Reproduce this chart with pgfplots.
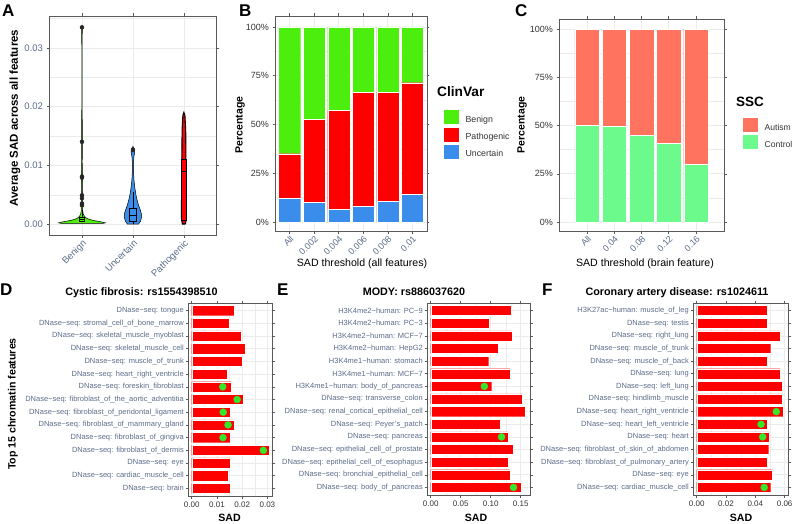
\documentclass[border=0pt]{standalone}
\usepackage{fontspec}
\setmainfont{Liberation Sans}
\usepackage{pgfplots}
\pgfplotsset{compat=1.18}

\definecolor{cben}{HTML}{4CEE0E}
\definecolor{cpat}{HTML}{FF0000}
\definecolor{cunc}{HTML}{3B8DEB}
\definecolor{caut}{HTML}{FF735F}
\definecolor{cctl}{HTML}{6BFA8B}
\definecolor{cdot}{HTML}{33E82A}
\definecolor{cgrid}{HTML}{EBEBEB}
\definecolor{ctick}{HTML}{5C6C8A}
\definecolor{cdark}{HTML}{333333}

\newcommand{\fs}[1]{\fontsize{#1}{#1}\selectfont}

\pgfplotsset{
  gg/.style={
    scale only axis, anchor=south west,
    axis line style={draw=black!65, line width=0.6pt},
    tick align=outside, major tick length=2.5pt, minor tick length=0pt,
    tick style={draw=black!65, line width=0.5pt},
    grid=both,
    major grid style={draw=cgrid, line width=0.6pt},
    minor grid style={draw=cgrid, line width=0.3pt},
    /pgf/number format/assume math mode=true,
  },
  sq/.style={legend image code/.code={\filldraw[##1] (0pt,-4.5pt) rectangle (16pt,10.5pt); \path (20pt,0pt);}},
  hbar/.style={
    ymin=0.4, ymax=15.6, ytick={1,...,15},
    scaled x ticks=false,
    xticklabel style={font=\fs{8}, text=cdark, /pgf/number format/.cd, fixed, fixed zerofill, precision=2},
    yticklabel style={font=\fs{7.5}, text=ctick, inner sep=1.5pt},
  },
}

\begin{document}
\begin{tikzpicture}
\path[use as bounding box] (0,0) rectangle (794pt,523pt);

% ---------- A: violins
\begin{axis}[gg, at={(49pt,288pt)}, width=167pt, height=219pt,
  xmin=0.353, xmax=3.63, ymin=-0.00187, ymax=0.03543,
  xtick={1,2,3}, xticklabels={Benign,Uncertain,Pathogenic},
  ytick={0,0.01,0.02,0.03}, minor ytick={0.005,0.015,0.025,0.035},
  scaled y ticks=false,
  tick label style={font=\fs{9.5}, text=ctick},
  yticklabel style={/pgf/number format/.cd, fixed, fixed zerofill, precision=2},
  xticklabel style={rotate=45, anchor=north east, inner sep=1pt},
]
\addplot[fill=cben, draw=black, line width=0.5pt] coordinates {
 (1.40,0.0001)(1.46,0.0002)(1.36,0.0004)(1.23,0.0006)(1.14,0.0008)(1.09,0.0010)(1.05,0.0013)(1.025,0.0017)(1.012,0.0024)(1.02,0.0033)(1.008,0.0040)(1.015,0.0047)(1.006,0.0060)(1.012,0.0080)(1.005,0.0105)(1.008,0.0140)(1.004,0.0200)(1.004,0.0300)(1.006,0.0334)(1.0,0.0336)
 (0.994,0.0334)(0.996,0.0300)(0.996,0.0200)(0.992,0.0140)(0.995,0.0105)(0.988,0.0080)(0.994,0.0060)(0.985,0.0047)(0.992,0.0040)(0.98,0.0033)(0.988,0.0024)(0.975,0.0017)(0.95,0.0013)(0.91,0.0010)(0.86,0.0008)(0.77,0.0006)(0.64,0.0004)(0.54,0.0002)(0.60,0.0001)(1.40,0.0001)};
\addplot[fill=cunc, draw=black, line width=0.5pt] coordinates {
 (2.11,0)(2.15,0.0005)(2.17,0.0012)(2.165,0.0018)(2.14,0.0025)(2.11,0.0032)(2.085,0.004)(2.065,0.0047)(2.04,0.006)(2.02,0.0075)(2.012,0.009)(2.012,0.0105)(2.02,0.0115)(2.035,0.0122)(2.03,0.0128)(2,0.0132)
 (1.97,0.0128)(1.965,0.0122)(1.98,0.0115)(1.988,0.0105)(1.988,0.009)(1.98,0.0075)(1.96,0.006)(1.935,0.0047)(1.915,0.004)(1.89,0.0032)(1.86,0.0025)(1.835,0.0018)(1.83,0.0012)(1.85,0.0005)(1.89,0)(2.11,0)};
\addplot[fill=cpat, draw=black, line width=1.1pt] coordinates {
 (3.03,0)(3.05,0.001)(3.045,0.005)(3.04,0.011)(3.035,0.016)(3.02,0.0185)(3,0.019)
 (2.98,0.0185)(2.965,0.016)(2.96,0.011)(2.955,0.005)(2.95,0.001)(2.97,0)(3.03,0)};
% whiskers
\addplot[draw=black, line width=0.8pt] coordinates {(1,0.0012)(1,0.0024)};
\addplot[draw=black, line width=0.8pt] coordinates {(2,0.0027)(2,0.0055)};
\addplot[draw=black, line width=0.8pt] coordinates {(2,0.0004)(2,0.0)};
% boxes
\addplot[fill=cben, draw=black, line width=0.8pt] coordinates {(0.95,0.0004)(1.05,0.0004)(1.05,0.0012)(0.95,0.0012)(0.95,0.0004)};
\addplot[draw=black, line width=0.9pt] coordinates {(0.95,0.0007)(1.05,0.0007)};
\addplot[fill=cunc, draw=black, line width=0.8pt] coordinates {(1.94,0.0004)(2.06,0.0004)(2.06,0.0027)(1.94,0.0027)(1.94,0.0004)};
\addplot[draw=black, line width=0.9pt] coordinates {(1.94,0.0015)(2.06,0.0015)};
\addplot[fill=cpat, draw=black, line width=0.6pt] coordinates {(2.945,0.0007)(3.055,0.0007)(3.055,0.011)(2.945,0.011)(2.945,0.0007)};
\addplot[draw=black, line width=0.9pt] coordinates {(2.945,0.0089)(3.055,0.0089)};
% outliers
\addplot[only marks, mark=*, mark size=2pt, mark options={draw=black!85, fill=black!85}] coordinates {
 (1,0.0335)(1,0.0140)(1,0.0081)(1,0.0079)(1,0.0049)(1,0.0044)(1,0.0035)(1,0.0032)(2,0.0126)};
\end{axis}

% ---------- B: ClinVar stacked bars
\begin{axis}[gg, at={(275pt,292pt)}, width=152pt, height=215pt,
  ybar stacked, bar width=0.9,
  xmin=-0.6, xmax=5.6, ymin=-4.6, ymax=105.6,
  xtick={0,...,5}, xticklabels={All,0.002,0.004,0.006,0.008,0.01},
  ytick={0,25,50,75,100}, yticklabels={0\%,25\%,50\%,75\%,100\%},
  minor ytick={12.5,37.5,62.5,87.5},
  yticklabel style={font=\fs{9}, text=cdark},
  xticklabel style={font=\fs{9}, text=ctick, rotate=45, anchor=north east, inner sep=1pt},
  reverse legend,
  legend style={at={(1.105,0.567)}, anchor=north west, draw=none, fill=none,
    inner sep=0pt, row sep=0.6pt, font=\fs{8.8}, text=cdark, cells={anchor=west}},
]
\addplot[fill=cunc, draw=white, line width=0.4pt, sq] coordinates {(0,12)(1,10.1)(2,6.5)(3,7.9)(4,10.6)(5,14.1)};
\addlegendentry{Uncertain}
\addplot[fill=cpat, draw=white, line width=0.4pt, sq] coordinates {(0,23)(1,42.7)(2,50.6)(3,58.7)(4,56)(5,57.3)};
\addlegendentry{Pathogenic}
\addplot[fill=cben, draw=white, line width=0.4pt, sq] coordinates {(0,65)(1,47.2)(2,42.9)(3,33.4)(4,33.4)(5,28.6)};
\addlegendentry{Benign}
\end{axis}

% ---------- C: SSC stacked bars
\begin{axis}[gg, at={(559pt,292pt)}, width=165pt, height=212pt,
  ybar stacked, bar width=0.9,
  xmin=-1.03, xmax=5.03, ymin=-4.66, ymax=105.2,
  xtick={0,...,4}, xticklabels={All,0.04,0.08,0.12,0.16},
  ytick={0,25,50,75,100}, yticklabels={0\%,25\%,50\%,75\%,100\%},
  minor ytick={12.5,37.5,62.5,87.5},
  yticklabel style={font=\fs{9}, text=cdark},
  xticklabel style={font=\fs{9}, text=ctick, rotate=45, anchor=north east, inner sep=1pt},
  reverse legend,
  legend style={at={(1.109,0.538)}, anchor=north west, draw=none, fill=none,
    inner sep=0pt, row sep=0.3pt, font=\fs{8.6}, text=cdark, cells={anchor=west}},
]
\addplot[fill=cctl, draw=white, line width=0.4pt, sq] coordinates {(0,50)(1,49.7)(2,45)(3,40.7)(4,30)};
\addlegendentry{Control}
\addplot[fill=caut, draw=white, line width=0.4pt, sq] coordinates {(0,50)(1,50.3)(2,55)(3,59.3)(4,70)};
\addlegendentry{Autism}
\end{axis}

% ---------- D: Cystic fibrosis
\begin{axis}[gg, hbar, at={(188pt,27pt)}, width=84.7pt, height=193pt,
  xmin=-0.00147, xmax=0.0321,
  xtick={0,0.01,0.02,0.03}, minor xtick={0.005,0.015,0.025},
  yticklabels={DNase−seq: brain, DNase−seq: cardiac\_muscle\_cell, DNase−seq: eye,
    DNase−seq: fibroblast\_of\_dermis, DNase−seq: fibroblast\_of\_gingiva,
    DNase−seq: fibroblast\_of\_mammary\_gland, DNase−seq: fibroblast\_of\_peridontal\_ligament,
    DNase−seq: fibroblast\_of\_the\_aortic\_adventitia, DNase−seq: foreskin\_fibroblast,
    DNase−seq: heart\_right\_ventricle, DNase−seq: muscle\_of\_trunk,
    DNase−seq: skeletal\_muscle\_cell, DNase−seq: skeletal\_muscle\_myoblast,
    DNase−seq: stromal\_cell\_of\_bone\_marrow, DNase−seq: tongue},
]
\addplot[xbar, bar width=0.8, bar shift=0pt, fill=cpat, draw=white, line width=0.3pt] coordinates {
 (0.0153,1)(0.0144,2)(0.0153,3)(0.0307,4)(0.0151,5)(0.0168,6)(0.0153,7)(0.0204,8)
 (0.0156,9)(0.0139,10)(0.0199,11)(0.0212,12)(0.0197,13)(0.0148,14)(0.0169,15)};
\addplot[only marks, mark=*, mark size=3.5pt, mark options={draw=cdot, fill=cdot}] coordinates {
 (0.0284,4)(0.0124,5)(0.0144,6)(0.0125,7)(0.0180,8)(0.0123,9)};
\end{axis}

% ---------- E: MODY
\begin{axis}[gg, hbar, at={(427pt,28pt)}, width=103pt, height=192pt,
  xmin=-0.0062, xmax=0.1655,
  xtick={0,0.05,0.1,0.15}, minor xtick={0.025,0.075,0.125},
  yticklabels={DNase−seq: body\_of\_pancreas, DNase−seq: bronchial\_epithelial\_cell,
    DNase−seq: epithelial\_cell\_of\_esophagus, DNase−seq: epithelial\_cell\_of\_prostate,
    DNase−seq: pancreas, DNase−seq: Peyer's\_patch, DNase−seq: renal\_cortical\_epithelial\_cell,
    DNase−seq: transverse\_colon, H3K4me1−human: body\_of\_pancreas, H3K4me1−human: MCF−7,
    H3K4me1−human: stomach, H3K4me2−human: HepG2, H3K4me2−human: MCF−7,
    H3K4me2−human: PC−3, H3K4me2−human: PC−9},
]
\addplot[xbar, bar width=0.8, bar shift=0pt, fill=cpat, draw=white, line width=0.3pt] coordinates {
 (0.151,1)(0.132,2)(0.129,3)(0.138,4)(0.129,5)(0.116,6)(0.158,7)(0.153,8)
 (0.1017,9)(0.132,10)(0.0967,11)(0.112,12)(0.136,13)(0.0972,14)(0.1344,15)};
\addplot[only marks, mark=*, mark size=3.5pt, mark options={draw=cdot, fill=cdot}] coordinates {
 (0.138,1)(0.118,5)(0.0894,9)};
\end{axis}

% ---------- F: Coronary artery disease
\begin{axis}[gg, hbar, at={(693pt,28pt)}, width=95pt, height=192pt,
  xmin=-0.0025, xmax=0.0623,
  xtick={0,0.02,0.04,0.06}, minor xtick={0.01,0.03,0.05},
  yticklabels={DNase−seq: cardiac\_muscle\_cell, DNase−seq: eye,
    DNase−seq: fibroblast\_of\_pulmonary\_artery, DNase−seq: fibroblast\_of\_skin\_of\_abdomen,
    DNase−seq: heart, DNase−seq: heart\_left\_ventricle, DNase−seq: heart\_right\_ventricle,
    DNase−seq: hindlimb\_muscle, DNase−seq: left\_lung, DNase−seq: lung,
    DNase−seq: muscle\_of\_back, DNase−seq: muscle\_of\_trunk, DNase−seq: right\_lung,
    DNase−seq: testis, H3K27ac−human: muscle\_of\_leg},
]
\addplot[xbar, bar width=0.8, bar shift=0pt, fill=cpat, draw=white, line width=0.3pt] coordinates {
 (0.0505,1)(0.0518,2)(0.0484,3)(0.0491,4)(0.0493,5)(0.0484,6)(0.0593,7)(0.0586,8)
 (0.0586,9)(0.0570,10)(0.0484,11)(0.0505,12)(0.0570,13)(0.0480,14)(0.0484,15)};
\addplot[only marks, mark=*, mark size=3.5pt, mark options={draw=cdot, fill=cdot}] coordinates {
 (0.0461,1)(0.0450,5)(0.0439,6)(0.0543,7)};
\end{axis}

% ---------- labels, titles, panel letters
\node[rotate=90, font=\bfseries\fs{11.5}] at (15pt,405pt) {Average SAD across all features};
\node[rotate=90, font=\bfseries\fs{10.5}] at (240pt,398pt) {Percentage};
\node[rotate=90, font=\bfseries\fs{10.5}] at (522pt,398pt) {Percentage};
\node[font=\fs{10.6}, anchor=base] at (362pt,257pt) {SAD threshold (all features)};
\node[font=\fs{10.6}, anchor=base] at (645pt,257pt) {SAD threshold (brain feature)};
\node[font=\bfseries\fs{13.7}, anchor=base west, inner sep=0pt] at (437pt,426pt) {ClinVar};
\node[font=\bfseries\fs{13.5}, anchor=base west, inner sep=0pt] at (736pt,416pt) {SSC};
\node[rotate=90, font=\bfseries\fs{10.6}] at (13pt,119pt) {Top 15 chromatin features};
\node[font=\bfseries\fs{10.6}, anchor=base] at (229.5pt,2pt) {SAD};
\node[font=\bfseries\fs{10.6}, anchor=base] at (476pt,2pt) {SAD};
\node[font=\bfseries\fs{10.6}, anchor=base] at (741pt,2pt) {SAD};
\node[font=\bfseries\fs{10.8}, anchor=base] at (141.5pt,228pt) {Cystic fibrosis: rs1554398510};
\node[font=\bfseries\fs{10.8}, anchor=base] at (414pt,228pt) {MODY: rs886037620};
\node[font=\bfseries\fs{10.8}, anchor=base] at (677pt,228pt) {Coronary artery disease: rs1024611};
\node[font=\bfseries\fs{17}, anchor=base west, inner sep=0pt] at (2pt,506pt) {A};
\node[font=\bfseries\fs{17}, anchor=base west, inner sep=0pt] at (239pt,506pt) {B};
\node[font=\bfseries\fs{17}, anchor=base west, inner sep=0pt] at (515pt,506pt) {C};
\node[font=\bfseries\fs{17}, anchor=base west, inner sep=0pt] at (0pt,228pt) {D};
\node[font=\bfseries\fs{17}, anchor=base west, inner sep=0pt] at (277pt,228pt) {E};
\node[font=\bfseries\fs{17}, anchor=base west, inner sep=0pt] at (542pt,228pt) {F};
\end{tikzpicture}
\end{document}
